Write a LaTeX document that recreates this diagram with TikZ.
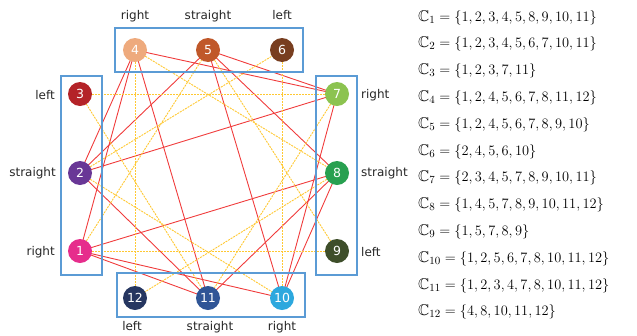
\documentclass[tikz,border=0pt]{standalone}
\usepackage{fontspec}
\usepackage{amssymb}
\usetikzlibrary{backgrounds}
\newfontfamily\labf{DejaVu Sans}
\definecolor{c1}{RGB}{230,45,140}
\definecolor{c2}{RGB}{105,55,150}
\definecolor{c3}{RGB}{180,35,40}
\definecolor{c4}{RGB}{238,170,125}
\definecolor{c5}{RGB}{192,88,42}
\definecolor{c6}{RGB}{120,62,32}
\definecolor{c7}{RGB}{140,195,80}
\definecolor{c8}{RGB}{40,160,80}
\definecolor{c9}{RGB}{62,78,42}
\definecolor{c10}{RGB}{45,168,222}
\definecolor{c11}{RGB}{48,85,150}
\definecolor{c12}{RGB}{38,54,96}
\definecolor{boxblue}{RGB}{91,155,213}
\definecolor{confred}{RGB}{240,60,60}
\definecolor{mergeyel}{RGB}{255,200,50}
\begin{document}
\begin{tikzpicture}[x=1pt,y=-1pt,
  mov/.style={circle, minimum size=24pt, inner sep=0pt, text=white, font=\labf\fontsize{12.5}{12.5}\selectfont},
  grp/.style={draw=boxblue, line width=1.1pt},
  lab/.style={font=\labf\fontsize{12}{14}\selectfont, text=black!85, inner sep=0pt},
  conf/.style={draw=confred, line width=0.9pt},
  merge/.style={draw=mergeyel, line width=0.9pt, dash pattern=on 2pt off 1pt},
  setf/.style={anchor=base west, inner sep=0pt, font=\fontsize{15.5}{18}\selectfont}
]
\useasboundingbox (0,0) rectangle (637,335);
% movement nodes
\node[mov, fill=c1] (n1) at (80,251) {1};
\node[mov, fill=c2] (n2) at (80,173) {2};
\node[mov, fill=c3] (n3) at (80,94) {3};
\node[mov, fill=c4] (n4) at (135,50) {4};
\node[mov, fill=c5] (n5) at (208,50) {5};
\node[mov, fill=c6] (n6) at (282,50) {6};
\node[mov, fill=c7] (n7) at (337,94) {7};
\node[mov, fill=c8] (n8) at (337,173) {8};
\node[mov, fill=c9] (n9) at (337,251) {9};
\node[mov, fill=c10] (n10) at (282,298) {10};
\node[mov, fill=c11] (n11) at (208,298) {11};
\node[mov, fill=c12] (n12) at (135,298) {12};
% edges
\begin{scope}[on background layer]
\foreach \a/\b in {1/4,1/8,1/10,1/11,2/4,2/5,2/7,2/11,4/7,4/11,5/7,5/8,5/10,7/10,8/10,8/11}
  \draw[conf] (n\a.center) -- (n\b.center);
\foreach \a/\b in {3/7,3/11,7/11,2/6,6/10,2/10,1/9,5/9,1/5,4/12,8/12,4/8}
  \draw[merge] (n\a.center) -- (n\b.center);
\end{scope}
% group boxes
\draw[grp] (115,28) rectangle (303,72);
\draw[grp] (61,76) rectangle (102,275);
\draw[grp] (316,76) rectangle (357,275);
\draw[grp] (117,273) rectangle (305,317);
% labels
\node[lab, anchor=base] (t4) at (135,19) {right};
\node[lab, anchor=base] (t5) at (208,19) {straight};
\node[lab, anchor=base] (t6) at (282,19) {left};
\node[lab, anchor=east] (t3) at (55,95) {left};
\node[lab, anchor=east] (t2) at (56,173) {straight};
\node[lab, anchor=east] (t1) at (55,252) {right};
\node[lab, anchor=west] (t7) at (361,95) {right};
\node[lab, anchor=west] (t8) at (361,173) {straight};
\node[lab, anchor=west] (t9) at (361,252) {left};
\node[lab, anchor=base] (t12) at (132,330) {left};
\node[lab, anchor=base] (t11) at (210,330) {straight};
\node[lab, anchor=base] (t10) at (282,330) {right};
% sets
\node[setf] (s1) at (418,{21+0*26.8}) {$\mathbb{C}_1=\{1,2,3,4,5,8,9,10,11\}$};
\node[setf] (s2) at (418,{21+1*26.8}) {$\mathbb{C}_2=\{1,2,3,4,5,6,7,10,11\}$};
\node[setf] (s3) at (418,{21+2*26.8}) {$\mathbb{C}_3=\{1,2,3,7,11\}$};
\node[setf] (s4) at (418,{21+3*26.8}) {$\mathbb{C}_4=\{1,2,4,5,6,7,8,11,12\}$};
\node[setf] (s5) at (418,{21+4*26.8}) {$\mathbb{C}_5=\{1,2,4,5,6,7,8,9,10\}$};
\node[setf] (s6) at (418,{21+5*26.8}) {$\mathbb{C}_6=\{2,4,5,6,10\}$};
\node[setf] (s7) at (418,{21+6*26.8}) {$\mathbb{C}_7=\{2,3,4,5,7,8,9,10,11\}$};
\node[setf] (s8) at (418,{21+7*26.8}) {$\mathbb{C}_8=\{1,4,5,7,8,9,10,11,12\}$};
\node[setf] (s9) at (418,{21+8*26.8}) {$\mathbb{C}_9=\{1,5,7,8,9\}$};
\node[setf] (s10) at (418,{21+9*26.8}) {$\mathbb{C}_{10}=\{1,2,5,6,7,8,10,11,12\}$};
\node[setf] (s11) at (418,{21+10*26.8}) {$\mathbb{C}_{11}=\{1,2,3,4,7,8,10,11,12\}$};
\node[setf] (s12) at (418,{21+11*26.8}) {$\mathbb{C}_{12}=\{4,8,10,11,12\}$};
\end{tikzpicture}
\end{document}
